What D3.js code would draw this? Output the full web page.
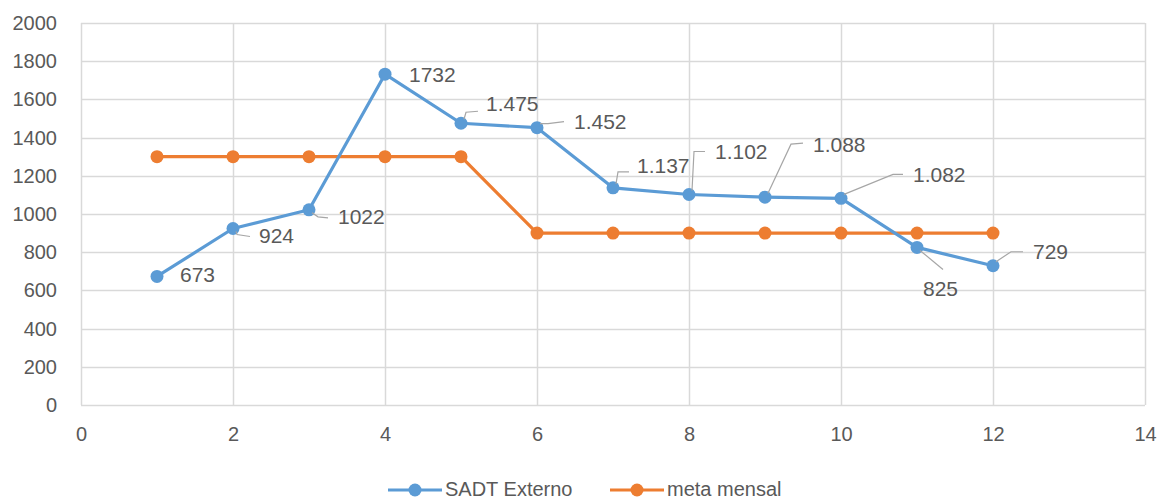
<!DOCTYPE html>
<html>
<head>
<meta charset="utf-8">
<script src="https://cdn.jsdelivr.net/npm/d3@7"></script>
<style>
  html, body { margin: 0; padding: 0; background: #fff; }
  text { font-family: "Liberation Sans", Arial, sans-serif; fill: #595959; }
</style>
</head>
<body>
<div id="chart"></div>
<script>
// ---- data ----
const months = [1, 2, 3, 4, 5, 6, 7, 8, 9, 10, 11, 12];
const sadtExterno = [673, 924, 1022, 1732, 1475, 1452, 1137, 1102, 1088, 1082, 825, 729];
const metaMensal = [1300, 1300, 1300, 1300, 1300, 900, 900, 900, 900, 900, 900, 900];
const sadtLabels = ["673", "924", "1022", "1732", "1.475", "1.452", "1.137", "1.102", "1.088", "1.082", "825", "729"];
const xTicks = [0, 2, 4, 6, 8, 10, 12, 14];
const yTicks = [0, 200, 400, 600, 800, 1000, 1200, 1400, 1600, 1800, 2000];
const seriesNames = ["SADT Externo", "meta mensal"];

// label offsets (dx, dy from point) and leader line bends, as in the excel chart
const labelPlace = [
  { dx: 23, dy: 6, lead: null },
  { dx: 26, dy: 14, lead: [[4, 6], [17, 8]] },
  { dx: 29, dy: 14, lead: [[9, 7], [19, 8]] },
  { dx: 24, dy: 8, lead: null },
  { dx: 25, dy: -12, lead: [[5, -11], [17, -12]] },
  { dx: 37, dy: 1, lead: [[11, -4], [27, -6]] },
  { dx: 24, dy: -15, lead: [[5, -16], [16, -16]] },
  { dx: 26, dy: -36, lead: [[5, -43], [16, -43]] },
  { dx: 48, dy: -45, lead: [[26, -53], [38, -54]] },
  { dx: 72, dy: -16, lead: [[52, -24], [62, -24]] },
  { dx: 6, dy: 49, lead: [[26, 22]] },
  { dx: 40, dy: -7, lead: [[18, -14], [30, -14]] }
];

const W = 1159, H = 499;
const margin = { left: 81, right: 14, top: 23, bottom: 94 };

const svg = d3.select('#chart').append('svg')
  .attr('width', W).attr('height', H);

const x = d3.scaleLinear().domain([0, 14]).range([margin.left, W - margin.right]);
const y = d3.scaleLinear().domain([0, 2000]).range([H - margin.bottom, margin.top]);

// gridlines
svg.append('g').selectAll('line.h')
  .data(yTicks).enter().append('line')
  .attr('x1', x(0)).attr('x2', x(14))
  .attr('y1', d => Math.round(y(d)) + 0.5).attr('y2', d => Math.round(y(d)) + 0.5)
  .attr('stroke', '#d9d9d9').attr('stroke-width', 1.5);
svg.append('g').selectAll('line.v')
  .data(xTicks).enter().append('line')
  .attr('y1', y(0)).attr('y2', y(2000))
  .attr('x1', d => Math.round(x(d)) + 0.5).attr('x2', d => Math.round(x(d)) + 0.5)
  .attr('stroke', '#d9d9d9').attr('stroke-width', 1.5);

// axes labels
const yAxis = svg.append('g').attr('transform', `translate(${x(0)},0)`)
  .call(d3.axisLeft(y).tickValues(yTicks).tickFormat(d3.format('d')).tickSize(0).tickPadding(24));
const xAxis = svg.append('g').attr('transform', `translate(0,${y(0)})`)
  .call(d3.axisBottom(x).tickValues(xTicks).tickFormat(d3.format('d')).tickSize(0).tickPadding(22));
[yAxis, xAxis].forEach(a => {
  a.select('.domain').remove();
  a.selectAll('text').style('font-size', '20px').attr('fill', '#595959')
    .attr('font-family', '"Liberation Sans", Arial, sans-serif');
});

const line = d3.line().x((d, i) => x(months[i])).y(d => y(d));

const series = [
  { vals: metaMensal, color: '#ed7d31' },
  { vals: sadtExterno, color: '#5b9bd5' }
];

series.forEach(s => {
  svg.append('path').datum(s.vals)
    .attr('d', line).attr('fill', 'none')
    .attr('stroke', s.color).attr('stroke-width', 3.2)
    .attr('stroke-linejoin', 'round');
  svg.append('g').selectAll('circle')
    .data(s.vals).enter().append('circle')
    .attr('cx', (d, i) => x(months[i])).attr('cy', d => y(d))
    .attr('r', 6.5).attr('fill', s.color);
});

// data labels with leader lines
const lab = svg.append('g');
sadtExterno.forEach((v, i) => {
  const px = x(months[i]), py = y(v);
  const p = labelPlace[i];
  if (p.lead) {
    const pts = [[px + 3, py - (p.lead[0][1] < 0 ? 4 : -3)]].concat(p.lead.map(q => [px + q[0], py + q[1]]));
    lab.append('path')
      .attr('d', d3.line()(pts))
      .attr('fill', 'none').attr('stroke', '#a6a6a6').attr('stroke-width', 1.2);
  }
  lab.append('text')
    .attr('x', px + p.dx).attr('y', py + p.dy)
    .style('font-size', '21px')
    .text(sadtLabels[i]);
});

// legend
const legendItems = [
  { name: seriesNames[0], color: '#5b9bd5', x0: 388 },
  { name: seriesNames[1], color: '#ed7d31', x0: 610 }
];
const ly = 490;
legendItems.forEach(it => {
  svg.append('line')
    .attr('x1', it.x0).attr('x2', it.x0 + 54)
    .attr('y1', ly).attr('y2', ly)
    .attr('stroke', it.color).attr('stroke-width', 3.2);
  svg.append('circle').attr('cx', it.x0 + 27).attr('cy', ly).attr('r', 6.5).attr('fill', it.color);
  svg.append('text').attr('x', it.x0 + 57).attr('y', ly + 6)
    .style('font-size', '20px').text(it.name);
});
</script>
</body>
</html>
